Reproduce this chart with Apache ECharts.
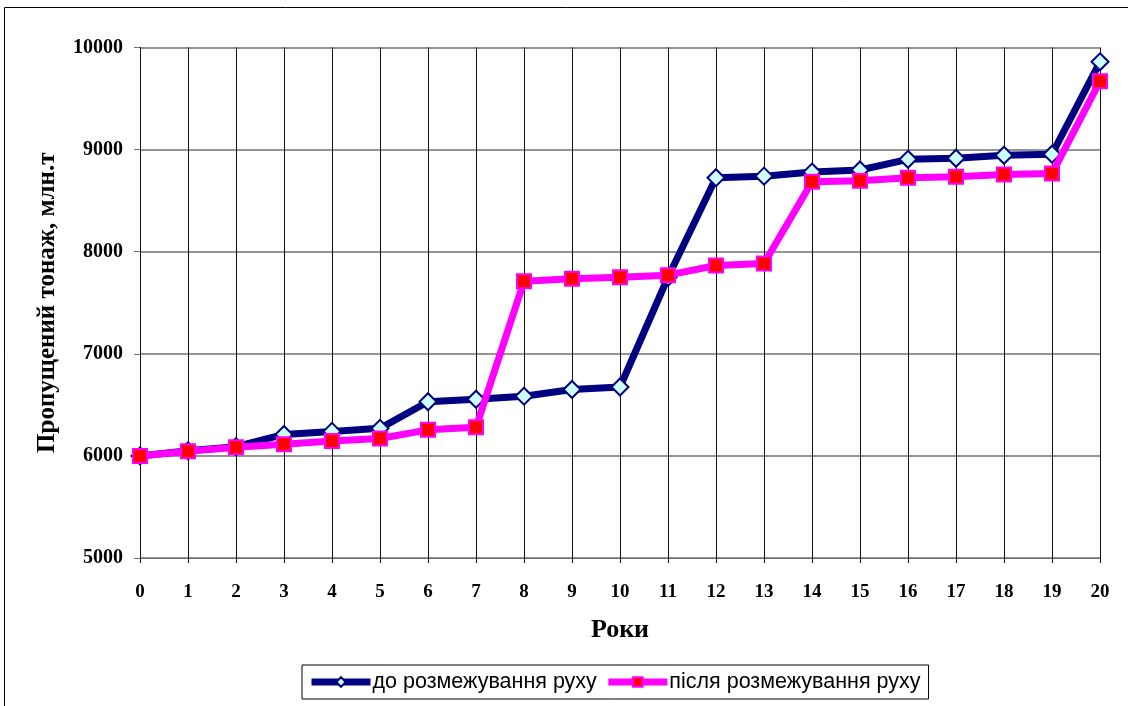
<!DOCTYPE html>
<html>
<head>
<meta charset="utf-8">
<script src="https://cdn.jsdelivr.net/npm/echarts@6/dist/echarts.min.js"></script>
<style>
html,body{margin:0;padding:0;background:#fff;}
#chart{width:1128px;height:706px;}
</style>
</head>
<body>
<div id="chart"></div>
<script>
const years = ['0','1','2','3','4','5','6','7','8','9','10','11','12','13','14','15','16','17','18','19','20'];
const beforeValues = [6000,6050,6090,6210,6240,6270,6530,6555,6585,6650,6675,7750,8725,8740,8780,8800,8905,8915,8945,8955,9860];
const afterValues = [6000,6045,6085,6115,6145,6170,6255,6280,7710,7735,7750,7770,7865,7885,8685,8695,8725,8735,8755,8765,9670];
const seriesNames = ['до розмежування руху','після розмежування руху'];
const yTitle = 'Пропущений тонаж, млн.т';
const xTitle = 'Роки';

const chart = echarts.init(document.getElementById('chart'));
const serif = 'Liberation Serif, Times New Roman, serif';
const vColor = '#111';
const hColor = '#707070';
chart.setOption({
  animation:false,
  backgroundColor:'#fff',
  graphic:[{type:'rect',shape:{x:4.5,y:7.5,width:1200,height:800},style:{fill:'none',stroke:'#000',lineWidth:1},z:-1}],
  grid:{left:140,right:28,top:47.5,bottom:148},
  legend:{
    bottom:7, left:302,
    data:[
      {name:seriesNames[0], lineStyle:{width:7,color:'#000080'}},
      {name:seriesNames[1], lineStyle:{width:7,color:'#ff00ff'}}
    ],
    itemWidth:59, itemHeight:12, itemGap:8,
    borderColor:'#000', borderWidth:1, padding:[5,8,5,6],
    textStyle:{fontFamily:'Liberation Sans, Arial, sans-serif',fontSize:21.5,lineHeight:24,color:'#000',padding:[0,0,0,-3]}
  },
  xAxis:{
    type:'category', data:years, boundaryGap:false,
    name:xTitle, nameLocation:'middle', nameGap:59,
    nameTextStyle:{fontFamily:serif,fontWeight:'bold',fontSize:26,color:'#000'},
    axisLine:{show:true,lineStyle:{color:hColor,width:1}},
    axisTick:{show:true,alignWithLabel:true,length:5,lineStyle:{color:vColor}},
    axisLabel:{fontFamily:serif,fontWeight:'bold',fontSize:19,color:'#000',margin:25},
    splitLine:{show:true,lineStyle:{color:vColor,width:1}}
  },
  yAxis:{
    type:'value', min:5000, max:10000, interval:1000,
    name:yTitle, nameLocation:'middle', nameGap:80,
    nameTextStyle:{fontFamily:serif,fontWeight:'bold',fontSize:25,color:'#000'},
    axisLine:{show:true,lineStyle:{color:vColor,width:1}},
    axisTick:{show:true,length:6,lineStyle:{color:hColor}},
    axisLabel:{fontFamily:serif,fontWeight:'bold',fontSize:20,color:'#000',margin:17,formatter:v=>String(v)},
    splitLine:{show:true,lineStyle:{color:hColor,width:1.5}}
  },
  series:[
    {
      name:seriesNames[0], type:'line', data:beforeValues,
      lineStyle:{color:'#000080',width:7},
      itemStyle:{color:'#ccffff',borderColor:'#000080',borderWidth:2},
      symbol:'diamond', symbolSize:17, showAllSymbol:true, z:2
    },
    {
      name:seriesNames[1], type:'line', data:afterValues,
      lineStyle:{color:'#ff00ff',width:7},
      itemStyle:{color:'#ff0000',borderColor:'#ff00ff',borderWidth:2},
      symbol:'rect', symbolSize:14, showAllSymbol:true, z:3
    }
  ]
});
</script>
</body>
</html>
